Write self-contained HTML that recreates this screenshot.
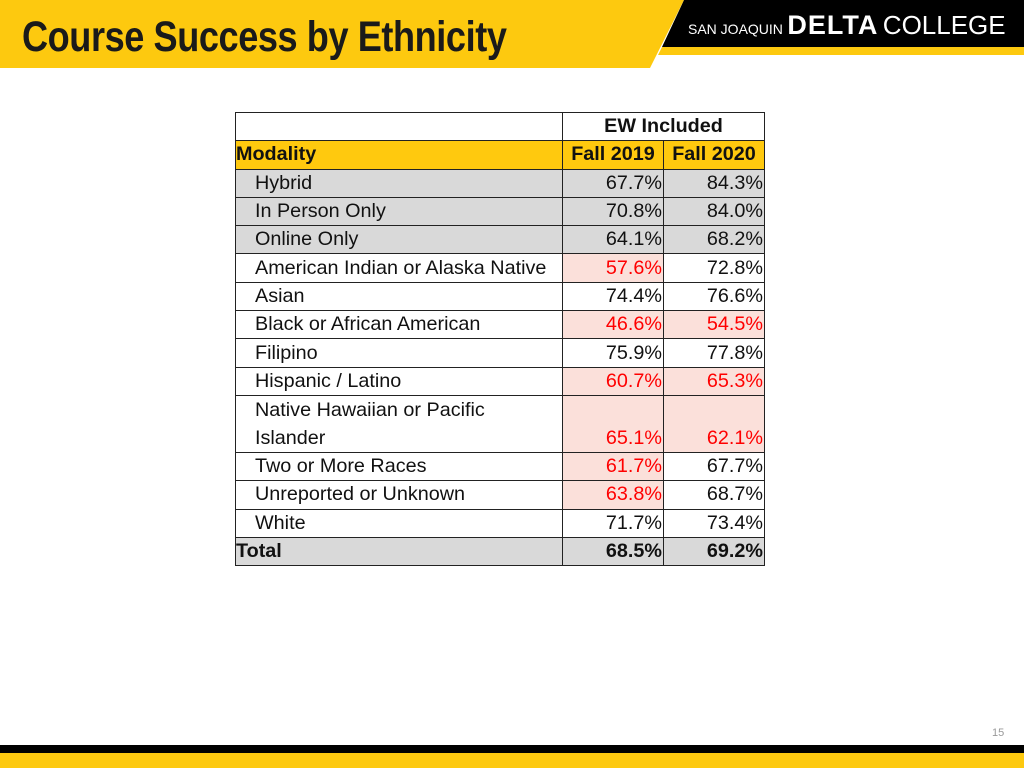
<!DOCTYPE html>
<html><head><meta charset="utf-8"><style>
body{margin:0;width:1024px;height:768px;position:relative;overflow:hidden;background:#fff;font-family:"Liberation Sans",sans-serif}
.abs{position:absolute}
table{position:absolute;left:235px;top:112px;border-collapse:collapse;font-size:19.8px;color:#111}
td{border:1.5px solid #222;padding:0;height:27.3px;line-height:27px;white-space:nowrap}
td.n{text-align:right;padding-right:1px}
.g td{background:#d9d9d9}
.r{color:#f00;background:#fbe0da}
.lab{padding-left:19px}
</style></head><body>
<svg class="abs" style="left:0;top:0" width="1024" height="70">
<polygon points="0,0 684,0 650,68 0,68" fill="#fdc90f"/>
<polygon points="684,0 1024,0 1024,47 662,47" fill="#000"/>
<polygon points="662,47 1024,47 1024,55 658,55" fill="#fdc90f"/>
</svg>
<div class="abs" style="left:22px;top:13px;font-size:43px;font-weight:bold;color:#1a1a1a;transform:scaleX(0.84);transform-origin:0 0;white-space:nowrap;letter-spacing:-0.5px">Course Success by Ethnicity</div>
<div class="abs" style="left:688px;top:10px;color:#fff;white-space:nowrap"><span style="font-size:14px">SAN JOAQUIN</span> <span style="font-size:27px;font-weight:900;letter-spacing:1px">DELTA</span> <span style="font-size:26px">COLLEGE</span></div>
<table>
<tr><td style="width:326px"></td><td colspan="2" style="text-align:center;font-weight:bold">EW Included</td></tr>
<tr style="background:#ffc90e;font-weight:bold"><td>Modality</td><td style="width:100px;text-align:center">Fall 2019</td><td style="width:100px;text-align:center">Fall 2020</td></tr>
<tr class="g"><td class="lab">Hybrid</td><td class="n">67.7%</td><td class="n">84.3%</td></tr>
<tr class="g"><td class="lab">In Person Only</td><td class="n">70.8%</td><td class="n">84.0%</td></tr>
<tr class="g"><td class="lab">Online Only</td><td class="n">64.1%</td><td class="n">68.2%</td></tr>
<tr><td class="lab">American Indian or Alaska Native</td><td class="n r">57.6%</td><td class="n">72.8%</td></tr>
<tr><td class="lab">Asian</td><td class="n">74.4%</td><td class="n">76.6%</td></tr>
<tr><td class="lab">Black or African American</td><td class="n r">46.6%</td><td class="n r">54.5%</td></tr>
<tr><td class="lab">Filipino</td><td class="n">75.9%</td><td class="n">77.8%</td></tr>
<tr><td class="lab">Hispanic / Latino</td><td class="n r">60.7%</td><td class="n r">65.3%</td></tr>
<tr><td class="lab" style="height:55px;line-height:28px">Native Hawaiian or Pacific<br>Islander</td><td class="n r" style="vertical-align:bottom">65.1%</td><td class="n r" style="vertical-align:bottom">62.1%</td></tr>
<tr><td class="lab">Two or More Races</td><td class="n r">61.7%</td><td class="n">67.7%</td></tr>
<tr><td class="lab">Unreported or Unknown</td><td class="n r">63.8%</td><td class="n">68.7%</td></tr>
<tr><td class="lab">White</td><td class="n">71.7%</td><td class="n">73.4%</td></tr>
<tr class="g" style="font-weight:bold"><td>Total</td><td class="n">68.5%</td><td class="n">69.2%</td></tr>
</table>
<div class="abs" style="left:992px;top:727px;font-size:11px;color:#999">15</div>
<div class="abs" style="left:0;top:745px;width:1024px;height:8px;background:#000"></div>
<div class="abs" style="left:0;top:753px;width:1024px;height:15px;background:#fdc90f"></div>
</body></html>
